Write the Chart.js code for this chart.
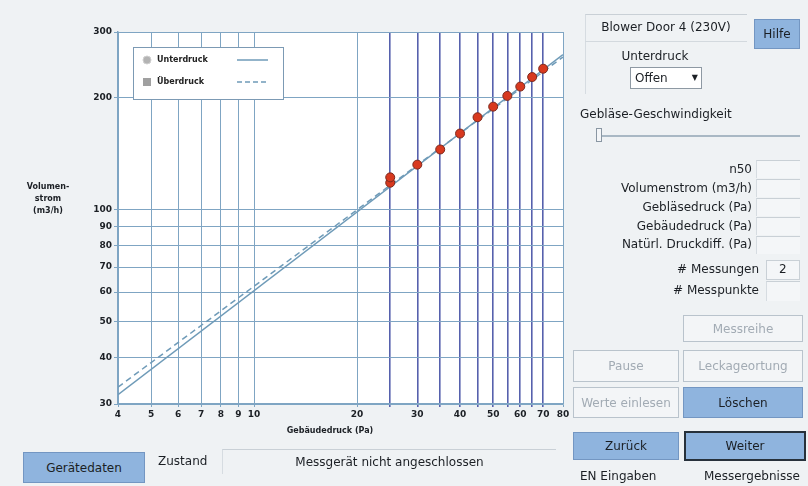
<!DOCTYPE html>
<html>
<head>
<meta charset="utf-8">
<script src="https://cdn.jsdelivr.net/npm/chart.js@4.4.0/dist/chart.umd.min.js"></script>
<style>
  html, body { margin: 0; padding: 0; }
  body { width: 808px; height: 486px; background: #eff2f4; position: relative; overflow: hidden;
         font-family: "DejaVu Sans", sans-serif; font-size: 12px; color: #1b1f24; }
  #wrap { position: absolute; left: 0; top: 0; width: 575px; height: 445px; }
  .abs { position: absolute; white-space: nowrap; }
  .btn { position: absolute; box-sizing: border-box; display: flex; align-items: center; justify-content: center;
         border: 1px solid #b9c3cc; background: #f3f5f7; color: #1b1f24; }
  .btn.off { color: #a2abb4; }
  .blue { background: #8fb4de; border-color: #7396c2; }
  .field { position: absolute; box-sizing: border-box; border-top: 1px solid #c9d0d6; border-left: 1px solid #d6dce1; background: #f4f6f8; }
  .lbl { position: absolute; right: 56px; white-space: nowrap; text-align: right; }
  .ytitle { position: absolute; left: 18px; top: 181px; width: 60px; text-align: center;
            font: bold 8px "DejaVu Sans", sans-serif; line-height: 12px; }
  .xtitle { position: absolute; left: 270px; top: 426px; width: 120px; text-align: center;
            font: bold 8px "DejaVu Sans", sans-serif; }
</style>
</head>
<body>
<div id="wrap"><canvas id="chart" width="575" height="445"></canvas></div>
<div class="ytitle">Volumen-<br>strom<br>(m3/h)</div>
<div class="xtitle">Gebäudedruck (Pa)</div>

<div class="field" style="left:585px;top:14px;width:162px;height:80px;background:none;"></div>
<div class="abs" style="left:585px;top:14px;width:162px;height:27px;line-height:27px;text-align:center;border-bottom:1px solid #d3d9de;">Blower Door 4 (230V)</div>
<div class="btn blue" style="left:754px;top:19px;width:46px;height:30px;">Hilfe</div>
<div class="abs" style="left:610px;top:49px;width:90px;text-align:center;">Unterdruck</div>
<div class="abs" style="left:630px;top:67px;width:72px;height:22px;box-sizing:border-box;border:1px solid #8e99a3;background:#fff;line-height:20px;padding-left:4px;">Offen<span style="position:absolute;right:3px;top:0;font-size:8px;">▼</span></div>
<div class="abs" style="left:580px;top:107px;">Gebläse-Geschwindigkeit</div>
<div class="abs" style="left:598px;top:135px;width:202px;height:2px;background:#a9b8c4;"></div>
<div class="abs" style="left:596px;top:128px;width:6px;height:14px;box-sizing:border-box;border:1px solid #8a97a3;background:#f4f6f8;"></div>

<div class="lbl" style="top:162px;">n50</div>
<div class="lbl" style="top:181px;">Volumenstrom (m3/h)</div>
<div class="lbl" style="top:200px;">Gebläsedruck (Pa)</div>
<div class="lbl" style="top:219px;">Gebäudedruck (Pa)</div>
<div class="lbl" style="top:237px;">Natürl. Druckdiff. (Pa)</div>
<div class="field" style="left:756px;top:160px;width:44px;height:18px;"></div>
<div class="field" style="left:756px;top:179px;width:44px;height:18px;"></div>
<div class="field" style="left:756px;top:198px;width:44px;height:18px;"></div>
<div class="field" style="left:756px;top:217px;width:44px;height:18px;"></div>
<div class="field" style="left:756px;top:236px;width:44px;height:18px;"></div>
<div class="lbl" style="top:262px;right:49px;"># Messungen</div>
<div class="field" style="left:766px;top:260px;width:34px;height:20px;border:1px solid #c9d0d6;"><span style="position:absolute;left:12px;top:1px;">2</span></div>
<div class="lbl" style="top:283px;right:49px;"># Messpunkte</div>
<div class="field" style="left:766px;top:281px;width:34px;height:20px;"></div>

<div class="btn off" style="left:683px;top:315px;width:120px;height:27px;">Messreihe</div>
<div class="btn off" style="left:573px;top:350px;width:106px;height:32px;">Pause</div>
<div class="btn off" style="left:683px;top:350px;width:120px;height:32px;">Leckageortung</div>
<div class="btn off" style="left:573px;top:387px;width:106px;height:31px;">Werte einlesen</div>
<div class="btn blue" style="left:683px;top:387px;width:120px;height:31px;">Löschen</div>
<div class="btn blue" style="left:573px;top:432px;width:106px;height:28px;">Zurück</div>
<div class="btn blue" style="left:684px;top:431px;width:122px;height:30px;border:2px solid #27313b;">Weiter</div>
<div class="abs" style="left:580px;top:469px;">EN Eingaben</div>
<div class="abs" style="left:704px;top:469px;">Messergebnisse</div>

<div class="btn blue" style="left:23px;top:452px;width:122px;height:31px;">Gerätedaten</div>
<div class="abs" style="left:158px;top:454px;">Zustand</div>
<div class="abs" style="left:222px;top:449px;width:333px;height:24px;line-height:24px;text-align:center;border-top:1px solid #c9d0d6;border-left:1px solid #d6dce1;">Messgerät nicht angeschlossen</div>

<script>
"use strict";

let X_TICKS = [4, 5, 6, 7, 8, 9, 10, 20, 25, 30, 35, 40, 45, 50, 55, 60, 65, 70, 80];
let X_LABELS = [4, 5, 6, 7, 8, 9, 10, 20, 30, 40, 50, 60, 70, 80];
let MEASURE_X = [25, 30, 35, 40, 45, 50, 55, 60, 65, 70];
let Y_TICKS = [30, 40, 50, 60, 70, 80, 90, 100, 200, 300];

let POINT_X = [25, 25, 30, 35, 40, 45, 50, 55, 60, 65, 70];
let POINT_Y = [118, 122, 132, 145, 160, 177, 189, 202, 214, 227, 239];

let UNTER_X = [4, 80];
let UNTER_Y = [31.8, 261];
let UEBER_X = [4, 80];
let UEBER_Y = [33.3, 257];

let GRID = "#7fa5c3";
let GRID_DARK = "#5661ad";
let LINE = "#6f9bb8";

function pairs(xs, ys) {
    return xs.map(function(x, i) { return { x: x, y: ys[i] }; });
}

let plotBackground = {
    id: "plotBackground",
    beforeDraw: function(chart) {
        let a = chart.chartArea;
        let ctx = chart.ctx;
        ctx.save();
        ctx.fillStyle = "#ffffff";
        ctx.fillRect(a.left, a.top, a.right - a.left, a.bottom - a.top);
        ctx.restore();
    }
};

// legend with marker + line sample, drawn inside the plot
let boxLegend = {
    id: "boxLegend",
    afterDraw: function(chart) {
        let ctx = chart.ctx;
        let x0 = 133, y0 = 47, w = 150, h = 52;
        ctx.save();
        ctx.fillStyle = "#ffffff";
        ctx.fillRect(x0, y0, w, h);
        ctx.strokeStyle = "#7c9ab4";
        ctx.lineWidth = 1;
        ctx.strokeRect(x0 + 0.5, y0 + 0.5, w, h);

        ctx.font = "bold 8px 'DejaVu Sans'";
        ctx.fillStyle = "#222";
        ctx.textBaseline = "middle";

        ctx.beginPath();
        ctx.arc(x0 + 14, y0 + 13, 4, 0, Math.PI * 2);
        ctx.fillStyle = "#b3b3b3";
        ctx.fill();
        ctx.strokeStyle = "#d0d0d0";
        ctx.stroke();
        ctx.fillStyle = "#222";
        ctx.fillText("Unterdruck", x0 + 24, y0 + 13);

        ctx.fillStyle = "#a0a0a0";
        ctx.fillRect(x0 + 10, y0 + 31, 8, 8);
        ctx.fillStyle = "#222";
        ctx.fillText("Überdruck", x0 + 24, y0 + 35);

        ctx.strokeStyle = LINE;
        ctx.lineWidth = 1.5;
        ctx.beginPath();
        ctx.moveTo(x0 + 104, y0 + 13);
        ctx.lineTo(x0 + 135, y0 + 13);
        ctx.stroke();
        ctx.setLineDash([5, 3]);
        ctx.beginPath();
        ctx.moveTo(x0 + 104, y0 + 35);
        ctx.lineTo(x0 + 135, y0 + 35);
        ctx.stroke();
        ctx.restore();
    }
};

let tickFont = { family: "DejaVu Sans", size: 9, weight: "bold" };

new Chart(document.getElementById("chart"), {
    type: "scatter",
    data: {
        datasets: [{
            label: "Messpunkte",
            data: pairs(POINT_X, POINT_Y),
            pointRadius: 4.5,
            pointBackgroundColor: "#d8391f",
            pointBorderColor: "#7d2a1e",
            pointBorderWidth: 1
        }, {
            label: "Unterdruck",
            data: pairs(UNTER_X, UNTER_Y),
            showLine: true,
            pointRadius: 0,
            borderColor: LINE,
            borderWidth: 1.5
        }, {
            label: "Überdruck",
            data: pairs(UEBER_X, UEBER_Y),
            showLine: true,
            pointRadius: 0,
            borderColor: LINE,
            borderWidth: 1.5,
            borderDash: [6, 4]
        }]
    },
    options: {
        responsive: false,
        animation: false,
        layout: { padding: { left: 0, right: 12, top: 32, bottom: 11 } },
        plugins: {
            legend: { display: false },
            tooltip: { enabled: false }
        },
        scales: {
            x: {
                type: "logarithmic",
                min: 4,
                max: 80,
                afterBuildTicks: function(scale) {
                    scale.ticks = X_TICKS.map(function(v) { return { value: v }; });
                },
                afterFit: function(scale) { scale.height = 30; },
                ticks: {
                    autoSkip: false,
                    maxRotation: 0,
                    padding: 2,
                    color: "#1b1f24",
                    font: tickFont,
                    callback: function(v) { return X_LABELS.includes(v) ? String(v) : ""; }
                },
                grid: {
                    color: function(c) {
                        return c.tick && MEASURE_X.includes(c.tick.value) ? GRID_DARK : GRID;
                    },
                    lineWidth: function(c) {
                        return c.tick && MEASURE_X.includes(c.tick.value) ? 1.6 : 1;
                    },
                    tickLength: 3
                },
                border: { color: GRID, width: 1.5 }
            },
            y: {
                type: "logarithmic",
                min: 30,
                max: 300,
                afterBuildTicks: function(scale) {
                    scale.ticks = Y_TICKS.map(function(v) { return { value: v }; });
                },
                afterFit: function(scale) { scale.width = 118; },
                ticks: {
                    autoSkip: false,
                    padding: 2,
                    color: "#1b1f24",
                    font: tickFont,
                    callback: function(v) { return String(v); }
                },
                grid: { color: GRID, lineWidth: 1, tickLength: 4 },
                border: { color: GRID, width: 1.5 }
            }
        }
    },
    plugins: [plotBackground, boxLegend]
});
</script>
</body>
</html>
